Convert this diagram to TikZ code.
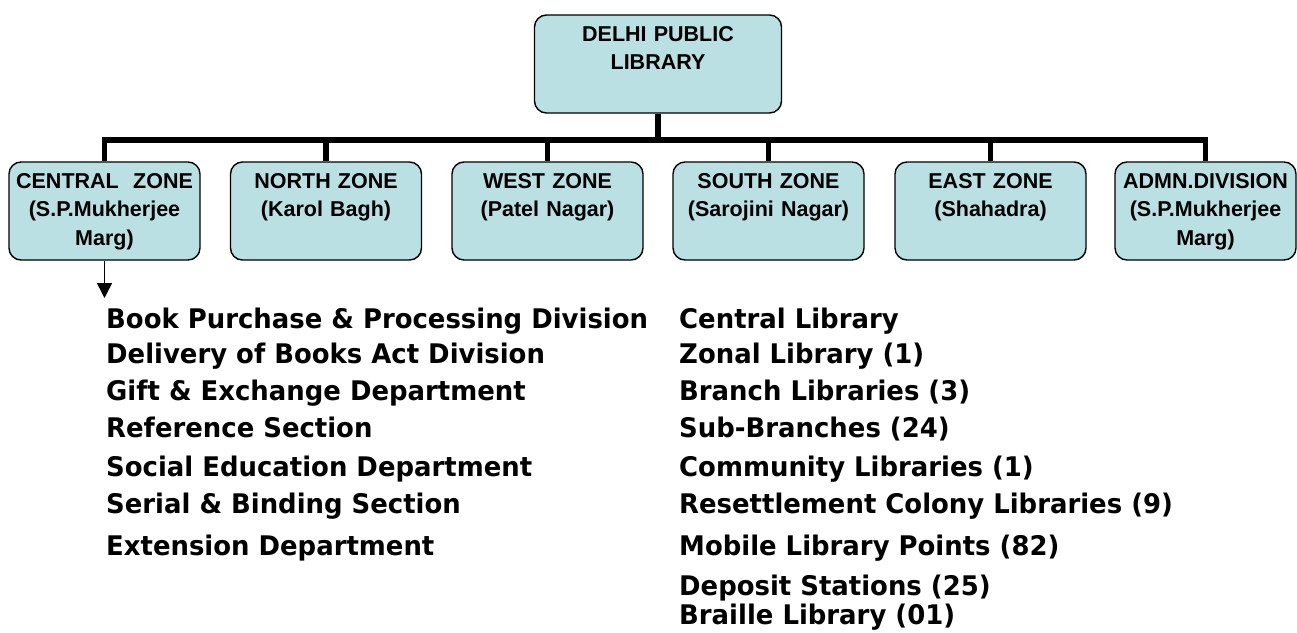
\documentclass[tikz,border=0pt]{standalone}
\usepackage{fontspec}
\setmainfont{DejaVu Sans}[FakeStretch=0.96]
\newfontfamily\boxfont{Liberation Sans}
\usetikzlibrary{arrows.meta}
\definecolor{boxblue}{RGB}{187,224,227}
\begin{document}
\begin{tikzpicture}[x=1pt, y=-1pt,
    unitbox/.style={draw, line width=1.4pt, rounded corners=12pt, fill=boxblue,
        minimum width=191pt, minimum height=98pt, inner sep=0pt, text width=187pt,
        align=center, font=\boxfont\bfseries\fontsize{21.5}{28.5}\selectfont,
        execute at begin node=\strut, execute at end node=\strut},
    trunk/.style={line width=5.5pt},
    listitem/.style={anchor=base west, inner sep=0pt, font=\bfseries\fontsize{27}{30}\selectfont}]

    % Page frame
    \useasboundingbox (0,0) rectangle (1297,632);

    % Head office
    \node[unitbox, minimum width=247pt] (root) at (658,64) {DELHI PUBLIC\\LIBRARY\\};

    % Zones
    \node[unitbox] (czone) at (104.5,211) {CENTRAL\ \ ZONE\\(S.P.Mukherjee\\Marg)};
    \node[unitbox] (nzone) at (326,211) {NORTH ZONE\\(Karol Bagh)\\};
    \node[unitbox] (wzone) at (547.5,211) {WEST ZONE\\(Patel Nagar)\\};
    \node[unitbox] (szone) at (768.5,211) {SOUTH ZONE\\(Sarojini Nagar)\\};
    \node[unitbox] (ezone) at (990.5,211) {EAST ZONE\\(Shahadra)\\};
    \node[unitbox, minimum width=181pt, text width=181pt] (admn) at (1205.5,211) {ADMN.DIVISION\\(S.P.Mukherjee\\Marg)};

    % Tree lines
    \coordinate (bus) at (658,140);
    \draw[trunk] (root.south) -- (bus);
    \draw[trunk] (czone.north) -- (czone.north |- bus) -- (admn.north |- bus) -- (admn.north);
    \draw[trunk] (nzone.north) -- (nzone.north |- bus);
    \draw[trunk] (wzone.north) -- (wzone.north |- bus);
    \draw[trunk] (szone.north) -- (szone.north |- bus);
    \draw[trunk] (ezone.north) -- (ezone.north |- bus);

    % Arrow down to the central zone list
    \coordinate (listtop) at (104.5,298);
    \draw[line width=1.5pt, -{Triangle[width=15pt,length=15pt]}] (czone.south) -- (listtop);

    % Divisions
    \node[listitem] (bookdiv) at (106,328) {Book Purchase \& Processing Division};
    \node[listitem] (deliverydiv) at (106,363) {Delivery of Books Act Division};
    \node[listitem] (giftdept) at (106,400) {Gift \& Exchange Department};
    \node[listitem] (refsec) at (106,437) {Reference Section};
    \node[listitem] (socialdept) at (106,476) {Social Education Department};
    \node[listitem] (serialsec) at (106,513) {Serial \& Binding Section};
    \node[listitem] (extdept) at (106,555) {Extension Department};

    % Libraries
    \node[listitem] (centrallib) at (679,328) {Central Library};
    \node[listitem] (zonallib) at (679,363) {Zonal Library (1)};
    \node[listitem] (branchlib) at (679,400) {Branch Libraries (3)};
    \node[listitem] (subbranch) at (679,437) {Sub-Branches (24)};
    \node[listitem] (communitylib) at (679,476) {Community Libraries (1)};
    \node[listitem] (colonylib) at (679,513) {Resettlement Colony Libraries (9)};
    \node[listitem] (mobilelib) at (679,555) {Mobile Library Points (82)};
    \node[listitem] (depositst) at (679,595) {Deposit Stations (25)};
    \node[listitem] (braillelib) at (679,624) {Braille Library (01)};

\end{tikzpicture}
\end{document}
